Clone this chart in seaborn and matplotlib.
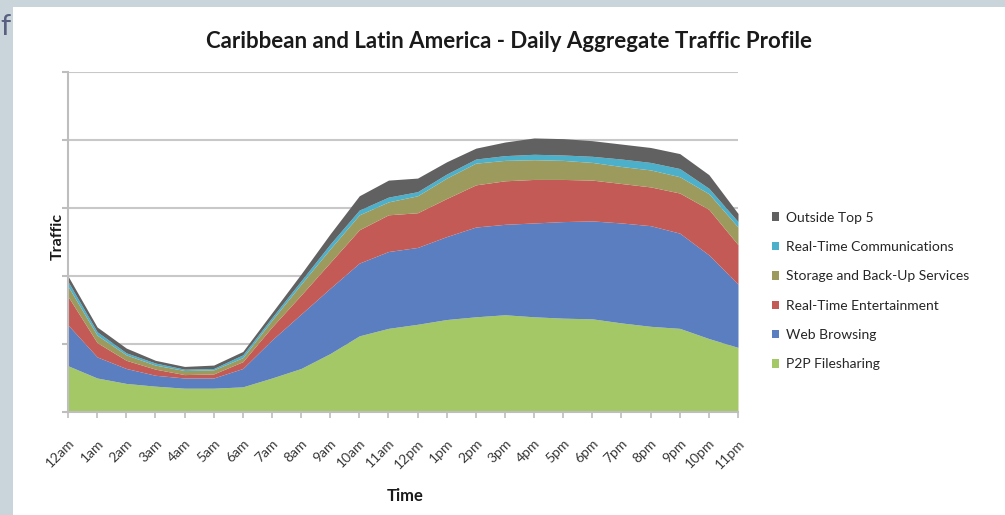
import numpy as np
import matplotlib
matplotlib.use("Agg")
import matplotlib.pyplot as plt
from matplotlib.patches import Rectangle, Patch
import seaborn as sns

# Hourly traffic by category (stacked, arbitrary units)
hours = ["12am", "1am", "2am", "3am", "4am", "5am", "6am", "7am", "8am", "9am",
         "10am", "11am", "12pm", "1pm", "2pm", "3pm", "4pm", "5pm", "6pm", "7pm",
         "8pm", "9pm", "10pm", "11pm"]

p2p_filesharing = [0.68, 0.50, 0.42, 0.38, 0.35, 0.35, 0.37, 0.50, 0.64, 0.86, 1.12, 1.23,
                   1.29, 1.36, 1.40, 1.43, 1.40, 1.38, 1.37, 1.31, 1.26, 1.23, 1.08, 0.95]
web_browsing = [0.60, 0.31, 0.22, 0.16, 0.15, 0.15, 0.27, 0.56, 0.80, 0.96, 1.07, 1.13,
                1.13, 1.22, 1.32, 1.33, 1.38, 1.42, 1.44, 1.47, 1.48, 1.40, 1.23, 0.93]
real_time_entertainment = [0.42, 0.21, 0.12, 0.09, 0.05, 0.06, 0.10, 0.19, 0.28, 0.38, 0.49, 0.54,
                           0.51, 0.56, 0.62, 0.64, 0.64, 0.62, 0.60, 0.58, 0.57, 0.59, 0.67, 0.58]
storage_backup = [0.15, 0.11, 0.08, 0.06, 0.06, 0.06, 0.06, 0.10, 0.16, 0.20, 0.22, 0.19,
                  0.25, 0.30, 0.32, 0.30, 0.29, 0.28, 0.26, 0.25, 0.25, 0.24, 0.23, 0.26]
real_time_comms = [0.07, 0.05, 0.03, 0.03, 0.02, 0.02, 0.04, 0.04, 0.05, 0.07, 0.07, 0.07,
                   0.06, 0.06, 0.06, 0.07, 0.08, 0.08, 0.09, 0.11, 0.11, 0.12, 0.08, 0.08]
outside_top5 = [0.08, 0.07, 0.07, 0.04, 0.04, 0.05, 0.05, 0.07, 0.10, 0.15, 0.21, 0.25,
                0.20, 0.18, 0.16, 0.20, 0.24, 0.24, 0.23, 0.22, 0.22, 0.22, 0.20, 0.12]

series_names = ["P2P Filesharing", "Web Browsing", "Real-Time Entertainment",
                "Storage and Back-Up Services", "Real-Time Communications", "Outside Top 5"]
series_values = [p2p_filesharing, web_browsing, real_time_entertainment,
                 storage_backup, real_time_comms, outside_top5]
series_colors = ["#A4C866", "#5B7EC1", "#C45A55", "#9D9A5E", "#4DB0CB", "#616161"]

sns.set_theme(style="white")
plt.rcParams["font.family"] = ["Lato", "DejaVu Sans"]

W, H = 1005, 515
fig = plt.figure(figsize=(W / 100, H / 100), dpi=100, facecolor="#C9D4DB")

# white chart card behind everything
fig.patches.append(Rectangle((13 / W, 0), 1 - 13 / W, 1 - 7 / H, transform=fig.transFigure,
                             facecolor="white", edgecolor="none", zorder=-5))
# slide letter on the left margin
fig.text(0.5 / W, 1 - 27 / H, "f", fontsize=21, color="#596080",
         ha="left", va="center")

ax = fig.add_axes([68 / W, 103 / H, 670 / W, 340 / H])
ax.set_zorder(2)
ax.set_facecolor("white")

x = np.arange(len(hours))
ax.stackplot(x, *series_values, colors=series_colors, labels=series_names, lw=0)

ax.set_xlim(0, len(hours) - 1)
ax.set_ylim(0, 5)
ax.set_yticks(range(6))
ax.set_yticklabels([])
ax.yaxis.grid(True, color="#C8C8C8", lw=1.5)
ax.xaxis.grid(False)
ax.set_axisbelow(True)

for side in ("top", "right"):
    ax.spines[side].set_visible(False)
for side in ("left", "bottom"):
    ax.spines[side].set_color("#BEBEBE")
    ax.spines[side].set_linewidth(1.5)

ax.tick_params(axis="y", left=True, length=4, width=1.5, color="#BEBEBE")
ax.tick_params(axis="x", bottom=True, length=4, width=1.2, color="#BEBEBE",
               pad=14, labelsize=10, labelcolor="#383838")
ax.set_xticks(x)
ax.set_xticklabels(hours)
for lbl in ax.get_xticklabels():
    lbl.set_rotation(45)
    lbl.set_rotation_mode("anchor")
    lbl.set_ha("right")
    lbl.set_va("top")

ax.set_xlabel("")
ax.set_ylabel("")
fig.text(405 / W, 1 - 496 / H, "Time", fontsize=12, fontweight="bold",
         color="#1a1a1a", ha="center", va="center")
fig.text(58 / W, 1 - 236 / H, "Traffic", fontsize=11.5, fontweight="bold",
         color="#1a1a1a", ha="center", va="center", rotation=90)

fig.text(509 / W, 1 - 42 / H,
         "Caribbean and Latin America - Daily Aggregate Traffic Profile",
         fontsize=16, fontweight="bold", color="#1a1a1a", ha="center", va="center")

handles = [Patch(facecolor=c, edgecolor="none") for c in series_colors][::-1]
fig.legend(handles, series_names[::-1], loc="upper left",
           bbox_to_anchor=(766 / W, 1 - 206 / H), frameon=False,
           handlelength=0.55, handleheight=0.55, handletextpad=0.5,
           labelspacing=1.25, fontsize=10, labelcolor="#262626", borderaxespad=0)

fig.savefig("out.png", dpi=100, facecolor=fig.get_facecolor())
